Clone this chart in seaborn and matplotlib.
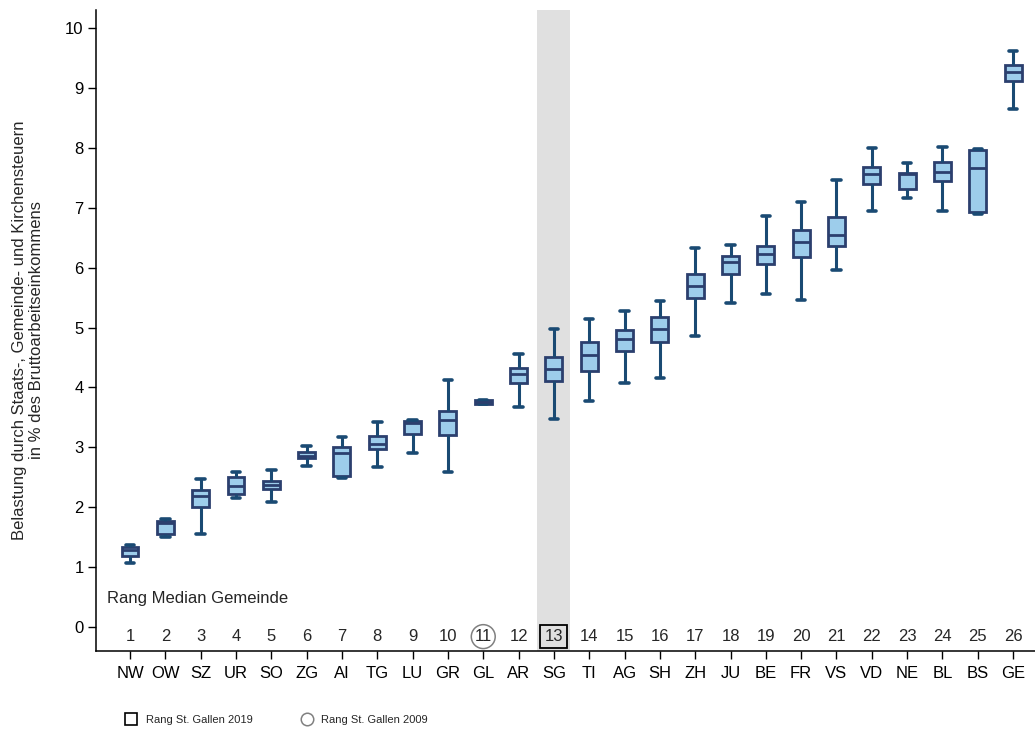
import numpy as np
import pandas as pd
import matplotlib
matplotlib.use("Agg")
import matplotlib.pyplot as plt
from matplotlib.lines import Line2D
import seaborn as sns

cantons = ["NW", "OW", "SZ", "UR", "SO", "ZG", "AI", "TG", "LU", "GR", "GL", "AR", "SG",
           "TI", "AG", "SH", "ZH", "JU", "BE", "FR", "VS", "VD", "NE", "BL", "BS", "GE"]
whisker_low = [1.07, 1.51, 1.56, 2.15, 2.09, 2.68, 2.49, 2.67, 2.91, 2.58, 3.72, 3.67, 3.47,
               3.77, 4.07, 4.16, 4.86, 5.41, 5.56, 5.46, 5.96, 6.94, 7.16, 6.94, 6.90, 8.65]
q1 = [1.19, 1.56, 2.01, 2.22, 2.30, 2.82, 2.52, 2.98, 3.23, 3.21, 3.73, 4.08, 4.11,
      4.28, 4.61, 4.76, 5.50, 5.89, 6.06, 6.18, 6.36, 7.40, 7.31, 7.45, 6.92, 9.12]
median = [1.29, 1.73, 2.18, 2.35, 2.37, 2.86, 2.90, 3.06, 3.41, 3.46, 3.76, 4.22, 4.31,
          4.54, 4.80, 4.97, 5.69, 6.09, 6.22, 6.43, 6.55, 7.56, 7.57, 7.59, 7.66, 9.27]
q3 = [1.34, 1.77, 2.29, 2.51, 2.43, 2.92, 3.00, 3.19, 3.44, 3.61, 3.79, 4.32, 4.50,
      4.76, 4.96, 5.18, 5.89, 6.19, 6.36, 6.63, 6.85, 7.68, 7.58, 7.76, 7.96, 9.39]
whisker_high = [1.37, 1.80, 2.47, 2.59, 2.62, 3.02, 3.18, 3.43, 3.46, 4.12, 3.79, 4.56, 4.97,
                5.14, 5.27, 5.44, 6.32, 6.38, 6.86, 7.10, 7.46, 8.00, 7.74, 8.02, 7.98, 9.62]
ranks = list(range(1, 27))
rank_2019 = 13
rank_2009 = 11

rows = []
for i, c in enumerate(cantons):
    for v in (whisker_low[i], q1[i], median[i], q3[i], whisker_high[i]):
        rows.append({"Kanton": c, "Belastung": v})
df = pd.DataFrame(rows)

sns.set_style("ticks")
plt.rcParams["font.family"] = ["Liberation Sans", "DejaVu Sans"]

fig = plt.figure(figsize=(10.35, 7.31), dpi=100)
ax = fig.add_axes([96 / 1035, 80 / 731, (1035 - 96) / 1035, 641 / 731])

sg_idx = cantons.index("SG")
ax.axvspan(sg_idx - 0.47, sg_idx + 0.47, color="#e0e0e0", zorder=0, lw=0)

fill_c = "#9dcdeb"
edge_c = "#2b3f6e"
wh_c = "#1a4a73"
sns.boxplot(data=df, x="Kanton", y="Belastung", order=cantons, whis=(0, 100),
            width=0.48, saturation=1, color=fill_c, linecolor=edge_c, ax=ax,
            boxprops=dict(facecolor=fill_c, edgecolor=edge_c, linewidth=2.0),
            whiskerprops=dict(color=wh_c, linewidth=2.2),
            capprops=dict(color=wh_c, linewidth=2.6),
            medianprops=dict(color=edge_c, linewidth=2.0),
            showfliers=False, zorder=3)

ax.set_xlim(-0.963, 25.62)
ax.set_ylim(-0.40, 10.30)
ax.set_yticks(range(0, 11))
ax.set_xlabel("")
ax.set_ylabel("")
ax.tick_params(axis="both", direction="out", length=6, width=1.0, colors="black",
               labelsize=12, pad=3)
ax.tick_params(axis="x", pad=4.5)
for s in ["top", "right"]:
    ax.spines[s].set_visible(False)
for s in ["left", "bottom"]:
    ax.spines[s].set_color("black")
    ax.spines[s].set_linewidth(1.1)

for i, r in enumerate(ranks):
    kw = dict(ha="center", va="center", fontsize=12, zorder=4)
    if r == rank_2019:
        kw["bbox"] = dict(boxstyle="square,pad=0.25", facecolor="none", edgecolor="black", lw=1.3)
    elif r == rank_2009:
        kw["bbox"] = dict(boxstyle="circle,pad=0.2", facecolor="none", edgecolor="#808080", lw=1.1)
    ax.text(i, -0.16, str(r), **kw)

ax.text(-0.65, 0.48, "Rang Median Gemeinde", ha="left", va="center", fontsize=12)

fig.text(28 / 1035, 1 - 330 / 731,
         "Belastung durch Staats-, Gemeinde- und Kirchensteuern\nin % des Bruttoarbeitseinkommens",
         rotation=90, ha="center", va="center", fontsize=12, multialignment="center")

handles = [Line2D([], [], ls="none", marker="s", markersize=9, markerfacecolor="none",
                  markeredgecolor="black", markeredgewidth=1.2),
           Line2D([], [], ls="none", marker="o", markersize=9, markerfacecolor="none",
                  markeredgecolor="#808080", markeredgewidth=1.1)]
fig.legend(handles, ["Rang St. Gallen 2019", "Rang St. Gallen 2009"], loc="center left",
           bbox_to_anchor=(120 / 1035, 1 - 720 / 731), ncol=2, frameon=False, fontsize=8,
           handlelength=1.0, handletextpad=0.8, columnspacing=4.4, borderpad=0)

fig.savefig("out.png", dpi=100)
